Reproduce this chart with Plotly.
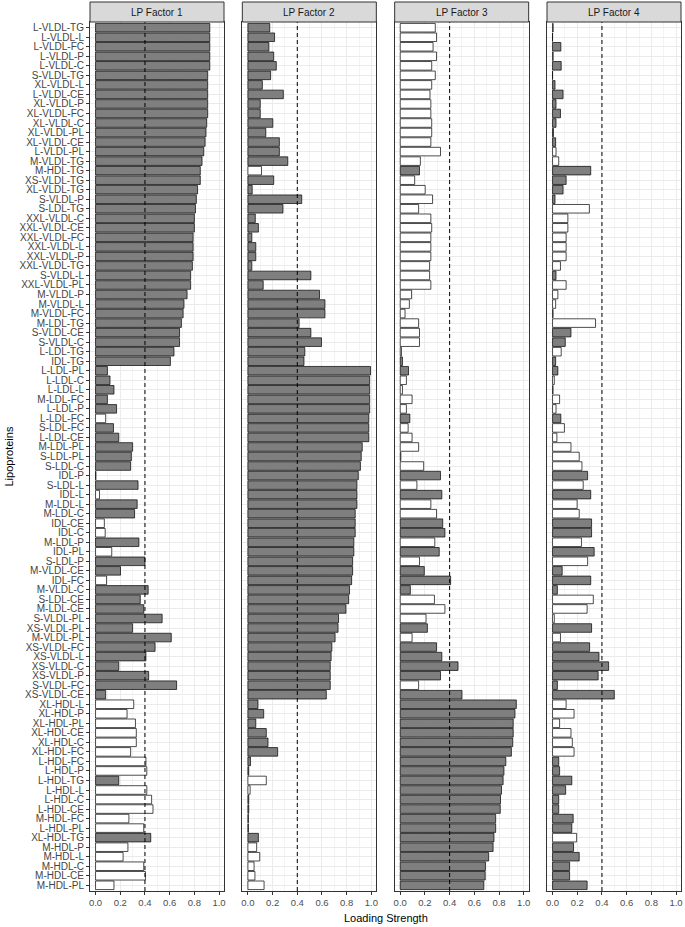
import plotly.graph_objects as go
from plotly.subplots import make_subplots

# lipoprotein labels, top to bottom
lipoproteins = [
    'L-VLDL-TG', 'L-VLDL-L', 'L-VLDL-FC', 'L-VLDL-P', 'L-VLDL-C', 'S-VLDL-TG', 'XL-VLDL-L',
    'L-VLDL-CE', 'XL-VLDL-P', 'XL-VLDL-FC', 'XL-VLDL-C', 'XL-VLDL-PL', 'XL-VLDL-CE', 'L-VLDL-PL',
    'M-VLDL-TG', 'M-HDL-TG', 'XS-VLDL-TG', 'XL-VLDL-TG', 'S-VLDL-P', 'S-LDL-TG', 'XXL-VLDL-C',
    'XXL-VLDL-CE', 'XXL-VLDL-FC', 'XXL-VLDL-L', 'XXL-VLDL-P', 'XXL-VLDL-TG', 'S-VLDL-L',
    'XXL-VLDL-PL', 'M-VLDL-P', 'M-VLDL-L', 'M-VLDL-FC', 'M-LDL-TG', 'S-VLDL-CE', 'S-VLDL-C',
    'L-LDL-TG', 'IDL-TG', 'L-LDL-PL', 'L-LDL-C', 'L-LDL-L', 'M-LDL-FC', 'L-LDL-P', 'L-LDL-FC',
    'S-LDL-FC', 'L-LDL-CE', 'M-LDL-PL', 'S-LDL-PL', 'S-LDL-C', 'IDL-P', 'S-LDL-L', 'IDL-L',
    'M-LDL-L', 'M-LDL-C', 'IDL-CE', 'IDL-C', 'M-LDL-P', 'IDL-PL', 'S-LDL-P', 'M-VLDL-CE',
    'IDL-FC', 'M-VLDL-C', 'S-LDL-CE', 'M-LDL-CE', 'S-VLDL-PL', 'XS-VLDL-PL', 'M-VLDL-PL',
    'XS-VLDL-FC', 'XS-VLDL-L', 'XS-VLDL-C', 'XS-VLDL-P', 'S-VLDL-FC', 'XS-VLDL-CE', 'XL-HDL-L',
    'XL-HDL-P', 'XL-HDL-PL', 'XL-HDL-CE', 'XL-HDL-C', 'XL-HDL-FC', 'L-HDL-FC', 'L-HDL-P',
    'L-HDL-TG', 'L-HDL-L', 'L-HDL-C', 'L-HDL-CE', 'M-HDL-FC', 'L-HDL-PL', 'XL-HDL-TG',
    'M-HDL-P', 'M-HDL-L', 'M-HDL-C', 'M-HDL-CE', 'M-HDL-PL']

# signed loadings (negative -> white bar)
factor1 = [
    0.925, 0.925, 0.925, 0.925, 0.925, 0.908, 0.908, 0.908, 0.908, 0.908, 0.90, 0.894, 0.887,
    0.876, 0.862, 0.848, 0.848, 0.826, 0.816, 0.809, 0.80, 0.80, 0.79, 0.79, 0.79, 0.784, 0.77,
    0.77, 0.741, 0.716, 0.709, 0.695, 0.68, 0.68, 0.635, 0.606, 0.096, 0.117, 0.149, 0.096,
    0.17, -0.082, 0.145, 0.188, 0.30, 0.29, 0.284, 0.003, 0.344, -0.032, 0.337, 0.316, -0.071,
    -0.078, 0.351, -0.131, 0.40, 0.202, -0.089, 0.426, 0.362, 0.39, 0.539, 0.30, 0.613, 0.482,
    0.408, 0.188, 0.43, 0.656, 0.082, -0.309, -0.255, -0.323, -0.33, -0.33, -0.284, -0.408,
    -0.415, 0.188, -0.415, -0.454, -0.465, -0.27, -0.39, 0.447, -0.262, -0.223, -0.39, -0.404,
    -0.149]
factor2 = [
    0.177, 0.216, 0.170, 0.209, 0.23, 0.184, 0.117, 0.287, 0.10, 0.10, 0.202, 0.145, 0.255,
    0.255, 0.323, -0.11, 0.209, 0.035, 0.436, 0.284, 0.06, 0.085, 0.032, 0.064, 0.064, 0.032,
    0.51, 0.124, 0.58, 0.624, 0.624, 0.415, 0.51, 0.596, 0.461, 0.454, 0.993, 0.986, 0.986,
    0.986, 0.986, 0.979, 0.979, 0.979, 0.926, 0.918, 0.911, 0.894, 0.883, 0.883, 0.883, 0.869,
    0.869, 0.869, 0.858, 0.858, 0.848, 0.848, 0.84, 0.823, 0.816, 0.794, 0.734, 0.73, 0.706,
    0.68, 0.674, 0.667, 0.667, 0.667, 0.635, 0.082, 0.128, 0.064, 0.149, 0.163, 0.241, 0.021,
    0.007, -0.149, -0.018, 0.007, 0.007, 0.004, 0.004, 0.085, -0.071, -0.096, -0.05, -0.057,
    -0.131]
factor3 = [
    -0.284, -0.294, -0.266, -0.294, -0.255, -0.284, -0.255, -0.241, -0.248, -0.248, -0.255,
    -0.255, -0.248, -0.326, -0.163, 0.156, -0.117, -0.202, -0.262, -0.149, -0.248, -0.255,
    -0.248, -0.248, -0.248, -0.238, -0.238, -0.248, -0.092, -0.074, -0.039, -0.149, -0.156,
    -0.156, -0.01, 0.018, 0.067, -0.05, -0.018, -0.096, -0.05, 0.078, -0.064, -0.096, -0.149,
    -0.005, -0.19, 0.326, -0.135, 0.337, -0.248, -0.294, 0.344, 0.362, -0.28, 0.316, -0.156,
    0.195, 0.408, 0.082, -0.277, -0.362, -0.209, 0.22, -0.096, 0.294, 0.337, 0.468, 0.326,
    -0.149, 0.50, 0.94, 0.929, 0.915, 0.915, 0.911, 0.90, 0.855, 0.84, 0.833, 0.82, 0.812,
    0.81, 0.773, 0.773, 0.759, 0.752, 0.716, 0.69, 0.688, 0.677]
factor4 = [
    -0.005, 0.0, 0.067, -0.005, 0.07, 0.0, 0.02, 0.085, 0.028, 0.064, 0.028, 0.007, 0.025,
    -0.028, -0.05, 0.309, 0.11, 0.085, 0.02, -0.298, -0.124, -0.124, -0.11, -0.11, -0.11,
    -0.064, 0.028, -0.11, -0.043, -0.025, -0.004, -0.348, 0.149, 0.103, -0.07, 0.025, 0.043,
    -0.014, -0.004, -0.057, -0.028, 0.067, -0.096, -0.035, -0.149, -0.216, -0.238, 0.284,
    -0.248, 0.309, -0.199, -0.216, 0.316, 0.316, -0.234, 0.337, -0.284, 0.078, 0.309, 0.039,
    -0.33, -0.28, -0.014, 0.316, -0.064, 0.30, 0.376, 0.454, 0.369, 0.039, 0.50, -0.11,
    -0.174, -0.057, -0.149, -0.16, -0.174, 0.05, 0.057, 0.156, 0.106, 0.05, 0.05, 0.167,
    0.156, -0.195, 0.17, 0.216, 0.138, 0.138, 0.28]

factor_names = ['LP Factor 1', 'LP Factor 2', 'LP Factor 3', 'LP Factor 4']
factors = [factor1, factor2, factor3, factor4]
xticks = [0.0, 0.2, 0.4, 0.6, 0.8, 1.0]
cutoff = 0.4

W, H = 685, 927
ML, MR, MT, MB = 90, 4, 22, 36
plot_h = H - MT - MB
panel_w = 134.0 / (W - ML - MR)
gap = (1 - 4 * panel_w) / 3

fig = make_subplots(rows=1, cols=4, shared_yaxes=True)

font = 'Liberation Sans, Arial, sans-serif'
n = len(lipoproteins)

for i, vals in enumerate(factors):
    col = i + 1
    fig.add_trace(go.Bar(
        x=[abs(v) for v in vals], y=lipoproteins, orientation='h', width=0.9,
        marker=dict(color=['#7f7f7f' if v >= 0 else 'white' for v in vals],
                    line=dict(color='black', width=0.7)),
        showlegend=False), row=1, col=col)

    x0 = i * (panel_w + gap)
    x1 = min(x0 + panel_w, 1.0)
    xname = 'xaxis' if i == 0 else 'xaxis%d' % col
    fig.layout[xname].update(
        domain=[x0, x1], range=[-0.045, 1.04], tickvals=xticks,
        ticktext=['%.1f' % t for t in xticks], ticks='outside', ticklen=3,
        tickcolor='#333333', tickfont=dict(size=9.5, color='#4d4d4d', family=font),
        ticklabeloverflow='allow',
        showgrid=True, gridcolor='#ebebeb', gridwidth=1,
        minor=dict(tickvals=[0.1, 0.3, 0.5, 0.7, 0.9], showgrid=True,
                   gridcolor='#f3f3f3', gridwidth=0.6),
        zeroline=False, showline=True, mirror=True, linecolor='#333333', linewidth=1)

    ref = 'x' if i == 0 else 'x%d' % col
    # dashed cutoff line
    fig.add_shape(type='line', xref=ref, yref='paper', x0=cutoff, x1=cutoff, y0=0, y1=1,
                  line=dict(color='black', width=1, dash='4px,3px'))
    # facet strip
    fig.add_shape(type='rect', xref='paper', yref='paper', x0=x0, x1=x1,
                  y0=1, y1=1 + 20 / plot_h, fillcolor='#d9d9d9',
                  line=dict(color='#333333', width=1))
    fig.add_annotation(text=factor_names[i], xref='paper', yref='paper',
                       x=(x0 + x1) / 2, y=1 + 10 / plot_h, showarrow=False,
                       font=dict(size=10, color='#1a1a1a', family=font),
                       xanchor='center', yanchor='middle')

fig.update_yaxes(categoryorder='array', categoryarray=lipoproteins,
                 tickmode='array', tickvals=lipoproteins,
                 range=[n - 1 + 0.6, -0.6], showgrid=True, gridcolor='#ebebeb',
                 gridwidth=1, zeroline=False, showline=True, mirror=True,
                 linecolor='#333333', linewidth=1)
fig.update_yaxes(ticks='outside', ticklen=3, tickcolor='#333333', automargin=False,
                 tickfont=dict(size=10, color='#444444', family=font), row=1, col=1)

fig.add_annotation(text='Loading Strength', xref='paper', yref='paper', x=0.5, y=0,
                   yshift=-27, showarrow=False, yanchor='middle',
                   font=dict(size=11, color='black', family=font))
fig.add_annotation(text='Lipoproteins', xref='paper', yref='paper', x=0, y=0.5,
                   xshift=-ML + 8, textangle=-90, showarrow=False, xanchor='center',
                   font=dict(size=11, color='black', family=font))

fig.update_layout(template='none', width=W, height=H,
                  margin=dict(l=ML, r=MR, t=MT, b=MB),
                  font=dict(family=font, color='#4d4d4d'),
                  plot_bgcolor='white', paper_bgcolor='white', bargap=0.1)

fig.write_html('out.html', config={'displayModeBar': False},
               post_script="document.body.style.margin='0px';")
